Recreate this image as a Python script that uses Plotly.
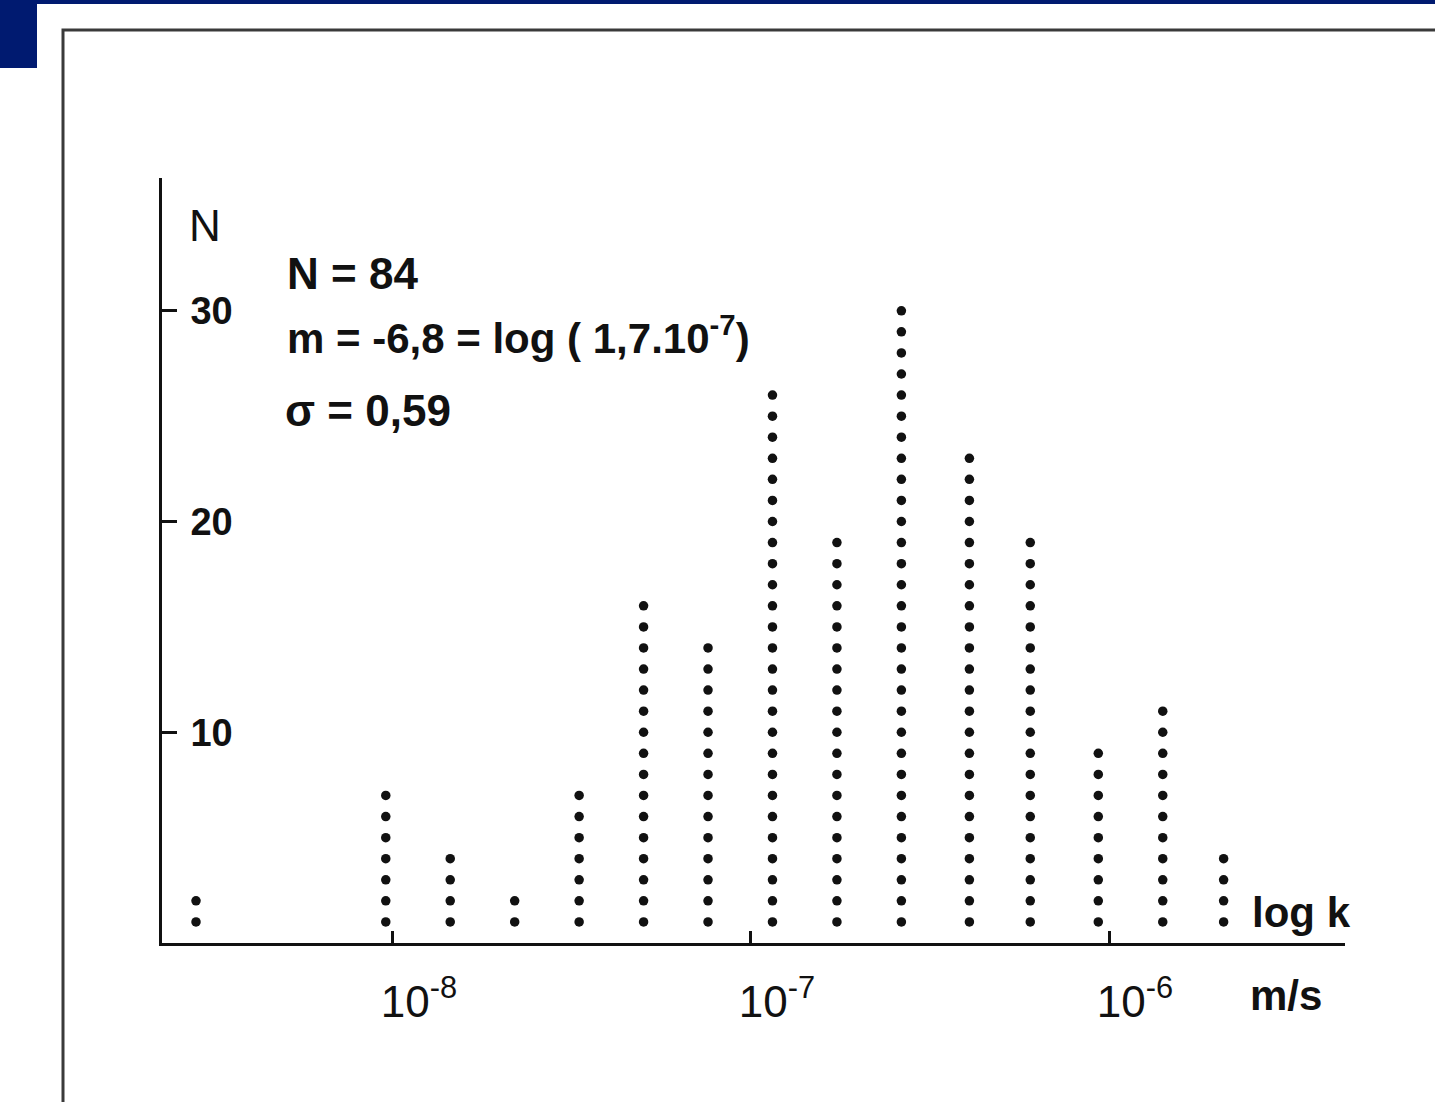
import plotly.graph_objects as go

# ---- data ----
log_k = [-8.55, -8.02, -7.84, -7.66, -7.48, -7.30, -7.12, -6.94,
         -6.76, -6.58, -6.39, -6.22, -6.03, -5.85, -5.68]
counts = [2, 7, 4, 2, 7, 16, 14, 26, 19, 30, 23, 19, 9, 11, 4]
x_tick_vals = [-8, -7, -6]
x_tick_text = ["10<sup>-8</sup>", "10<sup>-7</sup>", "10<sup>-6</sup>"]
y_tick_vals = [10, 20, 30]
y_tick_text = ["<b>10</b>", "<b>20</b>", "<b>30</b>"]
stat_lines = ["N = 84", "m = -6,8 = log ( 1,7.10<sup>-7</sup>)", "σ = 0,59"]

# ---- layout geometry ----
W, H = 1435, 1102
L, R, T, B = 162, 90, 178, 159
PW, PH = W - L - R, H - T - B
AX_Y = H - B


def px(x):
    return (x - L) / PW


def py(y):
    return (AX_Y - y) / PH


FONT = "Liberation Sans"
INK = "#111111"

# dot columns: one marker per counted item
xs, ys = [], []
for xv, n in zip(log_k, counts):
    for i in range(1, n + 1):
        xs.append(xv)
        ys.append(i)

fig = go.Figure()
fig.add_trace(go.Scatter(
    x=xs, y=ys, mode="markers",
    marker=dict(symbol="circle", size=9.5, color=INK),
    hoverinfo="skip", showlegend=False,
))

fig.update_layout(
    width=W, height=H,
    margin=dict(l=L, r=R, t=T, b=B, autoexpand=False),
    paper_bgcolor="white", plot_bgcolor="white",
    font=dict(family=FONT, color=INK),
    xaxis=dict(
        range=[-8.645, -5.341], showgrid=False, zeroline=False,
        showline=True, linecolor=INK, linewidth=3,
        tickmode="array", tickvals=x_tick_vals, ticktext=x_tick_text,
        ticks="inside", ticklen=12, tickwidth=3, tickcolor=INK,
        tickfont=dict(size=44, family=FONT, color=INK),
        ticklabelstandoff=18, ticklabelshift=26,
    ),
    yaxis=dict(
        range=[0, 36.3], showgrid=False, zeroline=False,
        showline=True, linecolor=INK, linewidth=3,
        tickmode="array", tickvals=y_tick_vals, ticktext=y_tick_text,
        ticks="inside", ticklen=15, tickwidth=3, tickcolor=INK,
        ticklabelposition="inside",
        tickfont=dict(size=38, family=FONT, color=INK),
        ticklabelstandoff=18,
    ),
)

annos = [
    dict(text="N", x=px(205), y=py(225), xanchor="center", yanchor="middle", size=44),
    dict(text="<b>" + stat_lines[0] + "</b>", x=px(285), y=py(273), xanchor="left", yanchor="middle", size=44),
    dict(text="<b>" + stat_lines[1] + "</b>", x=px(285), y=py(335), xanchor="left", yanchor="middle", size=42),
    dict(text="<b>" + stat_lines[2] + "</b>", x=px(283), y=py(410), xanchor="left", yanchor="middle", size=44),
    dict(text="<b>log k</b>", x=px(1250), y=py(912), xanchor="left", yanchor="middle", size=42),
    dict(text="<b>m/s</b>", x=px(1286), y=py(995), xanchor="center", yanchor="middle", size=42),
]
for a in annos:
    fig.add_annotation(
        text=a["text"], x=a["x"], y=a["y"], xref="paper", yref="paper",
        xanchor=a["xanchor"], yanchor=a["yanchor"], showarrow=False,
        font=dict(size=a["size"], family=FONT, color=INK),
    )

# page decorations: navy header strip / block and the grey frame
NAVY = "#001a70"
fig.add_shape(type="rect", xref="paper", yref="paper",
              x0=px(0), x1=px(W), y0=py(4), y1=py(0),
              fillcolor=NAVY, line=dict(width=0), layer="above")
fig.add_shape(type="rect", xref="paper", yref="paper",
              x0=px(0), x1=px(37), y0=py(68), y1=py(0),
              fillcolor=NAVY, line=dict(width=0), layer="above")
fig.add_shape(type="rect", xref="paper", yref="paper",
              x0=px(63), x1=px(W + 20), y0=py(H + 20), y1=py(30),
              fillcolor="rgba(0,0,0,0)", line=dict(color="#3a3a3a", width=3),
              layer="below")

fig.write_html("out.html")
